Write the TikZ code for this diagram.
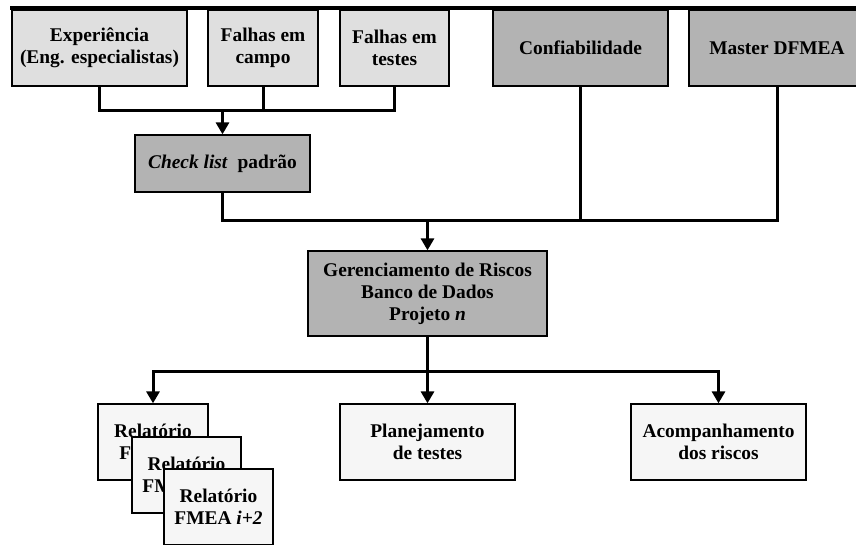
\documentclass[tikz,border=0pt]{standalone}
\usepackage{fontspec}
\setmainfont{Liberation Serif}
\usetikzlibrary{arrows.meta}

\definecolor{lightgr}{HTML}{DFDFDF}
\definecolor{darkgr}{HTML}{B3B3B3}
\definecolor{paper}{HTML}{F6F6F6}

\tikzset{
  box/.style={draw, line width=1.3pt, minimum width=175pt, minimum height=76pt,
    align=center, inner sep=0pt, font=\fontsize{19.4}{22}\selectfont\bfseries},
  wire/.style={line width=3pt},
  arrow/.style={wire, -{Triangle[length=12pt,width=13pt]}}
}

\begin{document}
\begin{tikzpicture}[x=1pt,y=-1pt]
\useasboundingbox (0,0) rectangle (856,544);
\clip (0,0) rectangle (856,544);
\draw[line width=3.8pt] (10,8) -- (856,8);
% sources
\node[box,fill=lightgr] (exp) at (99.5,48) {Experiência\\(Eng. especialistas)};
\node[box,fill=lightgr,minimum width=110pt] (campo) at (263,48) {Falhas em\\campo};
\node[box,fill=lightgr,minimum width=109pt] (testes) at (394.5,48) {Falhas em\\testes};
\node[box,fill=darkgr] (conf) at (580.5,48) {Confiabilidade};
\node[box,fill=darkgr,minimum width=176pt] (master) at (777,48) {Master DFMEA};
\node[box,fill=darkgr,minimum height=57pt] (check) at (222.5,163.5) {\textit{Check list}\ \ padrão};
\node[box,fill=darkgr,minimum width=239pt,minimum height=85pt] (ger) at (427.5,293.5)
  {Gerenciamento de Riscos\\Banco de Dados\\Projeto \textit{n}};
% outputs
\node[box,fill=paper,minimum width=110pt] (relA) at (153,442) {Relatório\\FMEA \textit{i}};
\node[box,fill=paper,minimum width=109pt] (relB) at (186.5,475) {Relatório\\FMEA \textit{i+1}};
\node[box,fill=paper,minimum width=109pt] (relC) at (218.5,507) {Relatório\\FMEA \textit{i+2}};
\node[box,fill=paper] (plan) at (427.5,442) {Planejamento\\de testes};
\node[box,fill=paper] (acomp) at (718.5,442) {Acompanhamento\\dos riscos};
% connectors
\draw[wire] (exp.south) -- ++(0,24) coordinate (j1) -| (testes.south);
\draw[wire] (campo.south) -- (campo.south |- j1);
\draw[arrow] (check.north |- j1) -- (check.north);
\draw[wire] (check.south) -- ++(0,28) coordinate (j2) -| (master.south);
\draw[wire] (conf.south) -- (conf.south |- j2);
\draw[arrow] (ger.north |- j2) -- (ger.north);
\draw[wire] (ger.south) -- ++(0,35) coordinate (j3);
\draw[arrow] (j3) -| (relA.north);
\draw[arrow] (j3) -| (acomp.north);
\draw[arrow] (j3) -- (plan.north);
\end{tikzpicture}
\end{document}
